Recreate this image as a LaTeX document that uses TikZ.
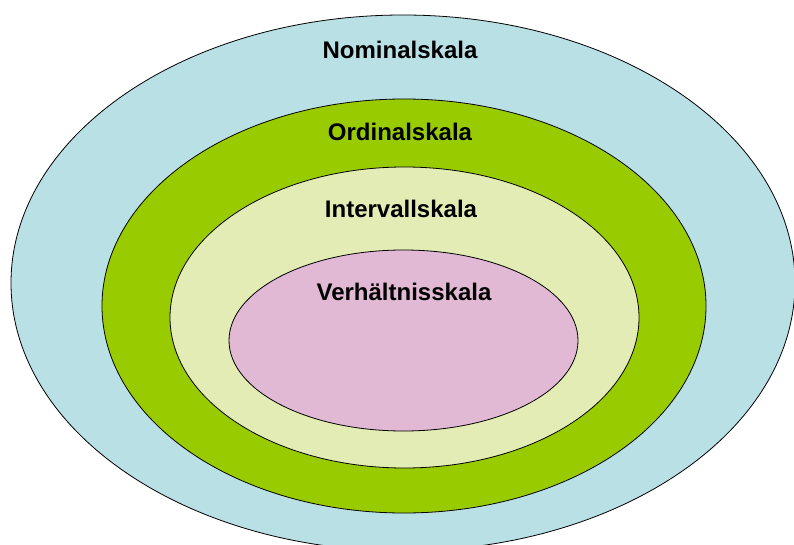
\documentclass[tikz,border=0pt]{standalone}
\usepackage{fontspec}
\setmainfont{Liberation Sans}
\usetikzlibrary{shapes.geometric}
\definecolor{nomblue}{RGB}{185,224,229}
\definecolor{ordgreen}{RGB}{153,204,0}
\definecolor{intpale}{RGB}{227,236,180}
\definecolor{ratpink}{RGB}{225,185,212}
\tikzset{
  scalering/.style={
    shape = ellipse,
    draw,
    line width = 0.8pt,
    inner sep = 0pt
  },
  scalename/.style={
    font=\fontsize{24}{28}\selectfont\bfseries,
    inner sep = 0pt
  }
}
\begin{document}
\begin{tikzpicture}[x=1pt,y=-1pt]
        \useasboundingbox (0,0) rectangle (794,545);
        \clip (0,0) rectangle (794,545);
        \node[scalering, fill=nomblue, minimum width=784, minimum height=536] (nominal) at (403,283) {};
        \node[scalering, fill=ordgreen, minimum width=604, minimum height=414] (ordinal) at (404,306) {};
        \node[scalering, fill=intpale, minimum width=469, minimum height=301] (interval) at (404.5,317.5) {};
        \node[scalering, fill=ratpink, minimum width=349, minimum height=181] (ratio) at (403.5,340.5) {};
        \node[scalename] (nomtext) at (400,50) {Nominalskala};
        \node[scalename] (ordtext) at (400,132) {Ordinalskala};
        \node[scalename] (inttext) at (401,209) {Intervallskala};
        \node[scalename] (rattext) at (404,292) {Verhältnisskala};
    \end{tikzpicture}
\end{document}
